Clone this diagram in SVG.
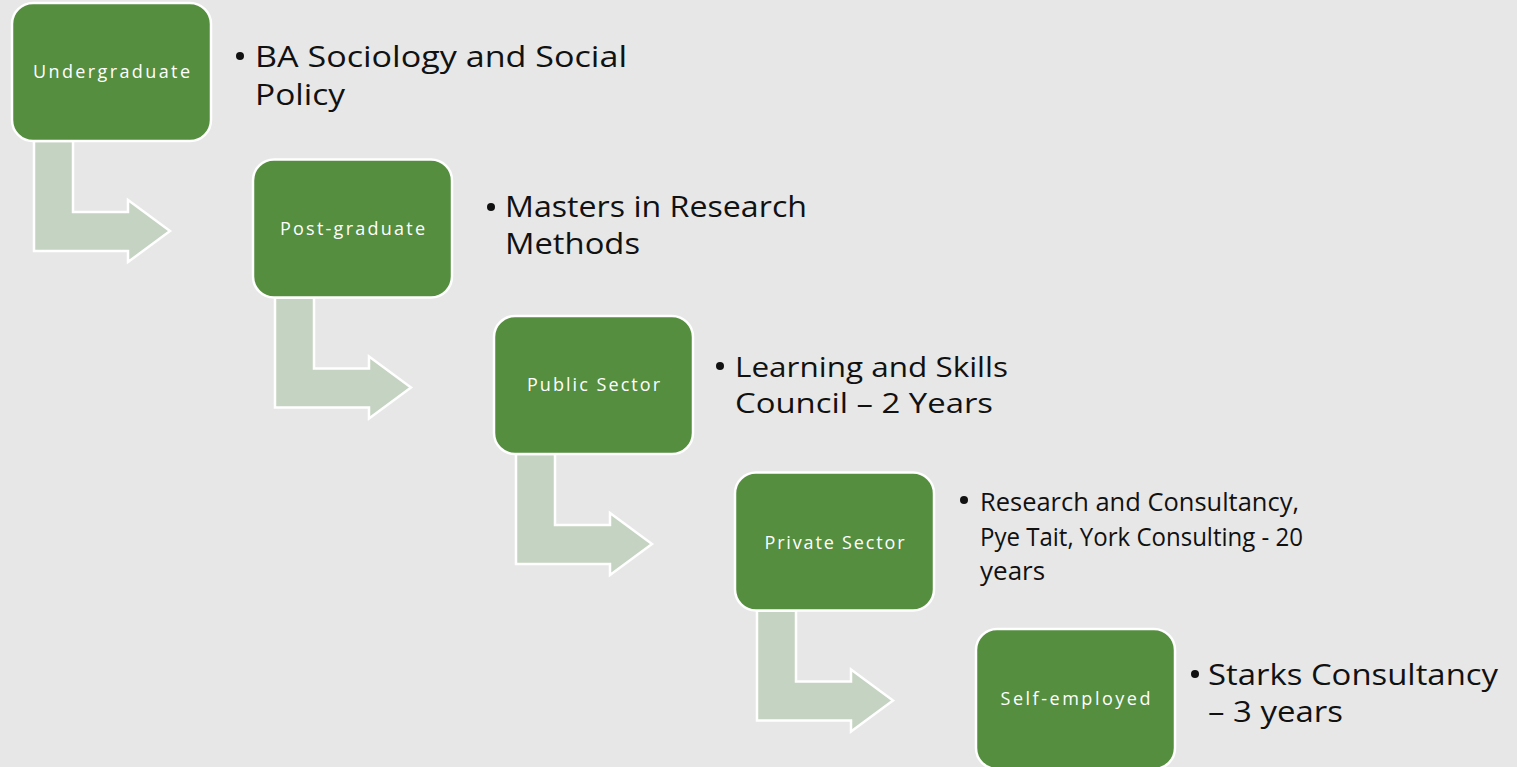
<svg xmlns="http://www.w3.org/2000/svg" width="1517" height="767" viewBox="0 0 1517 767">
<style>
.bg{fill:#E7E7E7}
.arrow{fill:#C5D3C2;stroke:#FFFFFF;stroke-width:2.5;stroke-linejoin:miter}
.box{fill:#558E3F;stroke:#FFFFFF;stroke-width:2.5}
.lbl{font-family:"Open Sans","DejaVu Sans",sans-serif;font-size:18px;fill:#FFFFFF;text-anchor:middle}
.txt{font-family:"Open Sans","DejaVu Sans",sans-serif;font-size:30px;fill:#111111}
.md{font-size:28px}
.sm{font-size:26px}
.dot{fill:#111111}
</style>
<rect class="bg" x="0" y="0" width="1517" height="767"/>
<g id="connectors">
<path class="arrow" d="M34,141 L73,141 L73,212 L128,212 L128,200 L170,231 L128,262 L128,251 L34,251 Z"/>
<path class="arrow" transform="translate(241,156.5)" d="M34,141 L73,141 L73,212 L128,212 L128,200 L170,231 L128,262 L128,251 L34,251 Z"/>
<path class="arrow" transform="translate(482,313)" d="M34,141 L73,141 L73,212 L128,212 L128,200 L170,231 L128,262 L128,251 L34,251 Z"/>
<path class="arrow" transform="translate(723,469.5)" d="M34,141 L73,141 L73,212 L128,212 L128,200 L170,231 L128,262 L128,251 L34,251 Z"/>
</g>
<g id="node-undergraduate">
<rect class="box" x="12" y="3" width="199" height="138" rx="21"/>
<text class="lbl" x="111.5" y="78" textLength="157" lengthAdjust="spacing">Undergraduate</text>
<circle class="dot" cx="240" cy="56" r="4"/>
<text class="txt" x="255" y="67" textLength="372" lengthAdjust="spacingAndGlyphs">BA Sociology and Social</text>
<text class="txt" x="255" y="105" textLength="90" lengthAdjust="spacingAndGlyphs">Policy</text>
</g>
<g id="node-postgraduate">
<rect class="box" x="253" y="159.5" width="199" height="138" rx="21"/>
<text class="lbl" x="352.5" y="235" textLength="145" lengthAdjust="spacing">Post-graduate</text>
<circle class="dot" cx="491" cy="207" r="4"/>
<text class="txt" x="505" y="217" textLength="302" lengthAdjust="spacingAndGlyphs">Masters in Research</text>
<text class="txt" x="505" y="254" textLength="135" lengthAdjust="spacingAndGlyphs">Methods</text>
</g>
<g id="node-public">
<rect class="box" x="494" y="316" width="199" height="138" rx="21"/>
<text class="lbl" x="593.5" y="391" textLength="133" lengthAdjust="spacing">Public Sector</text>
<circle class="dot" cx="720" cy="366" r="4"/>
<text class="txt md" x="735" y="377" textLength="273" lengthAdjust="spacingAndGlyphs">Learning and Skills</text>
<text class="txt md" x="735" y="413" textLength="258" lengthAdjust="spacingAndGlyphs">Council – 2 Years</text>
</g>
<g id="node-private">
<rect class="box" x="735" y="472.5" width="199" height="138" rx="21"/>
<text class="lbl" x="834.5" y="549" textLength="140" lengthAdjust="spacing">Private Sector</text>
<circle class="dot" cx="964" cy="500" r="4"/>
<text class="txt sm" x="980" y="511" textLength="319" lengthAdjust="spacingAndGlyphs">Research and Consultancy,</text>
<text class="txt sm" x="980" y="546" textLength="323" lengthAdjust="spacingAndGlyphs">Pye Tait, York Consulting - 20</text>
<text class="txt sm" x="980" y="580">years</text>
</g>
<g id="node-selfemployed">
<rect class="box" x="976" y="629" width="199" height="140" rx="21"/>
<text class="lbl" x="1075.5" y="705" textLength="150" lengthAdjust="spacing">Self-employed</text>
<circle class="dot" cx="1195" cy="674" r="4"/>
<text class="txt" x="1208" y="685" textLength="290" lengthAdjust="spacingAndGlyphs">Starks Consultancy</text>
<text class="txt" x="1208" y="722" textLength="135" lengthAdjust="spacingAndGlyphs">– 3 years</text>
</g>
</svg>
